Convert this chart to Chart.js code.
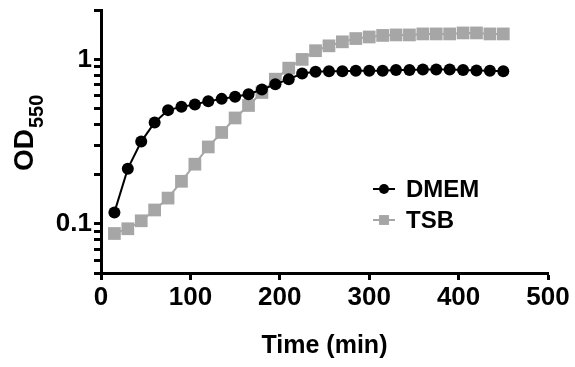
<!DOCTYPE html>
<html>
<head>
<meta charset="utf-8">
<script src="https://cdn.jsdelivr.net/npm/chart.js@4"></script>
<style>
  body { margin: 0; background: #fff; }
  #wrap { width: 575px; height: 367px; }
</style>
</head>
<body>
<div id="wrap"><canvas id="c" width="575" height="367"></canvas></div>
<script>
// sampling times (min)
var times = [15, 30, 45, 60, 75, 90, 105, 120, 135, 150, 165, 180, 195, 210, 225,
  240, 255, 270, 285, 300, 315, 330, 345, 360, 375, 390, 405, 420, 435, 450];
// OD550 readings
var dmem = [0.117, 0.216, 0.316, 0.413, 0.491, 0.514, 0.532, 0.557, 0.575, 0.592,
  0.614, 0.656, 0.705, 0.758, 0.821, 0.840, 0.848, 0.848, 0.852, 0.852,
  0.852, 0.861, 0.861, 0.869, 0.869, 0.869, 0.861, 0.857, 0.852, 0.848];
var tsb = [0.087, 0.093, 0.104, 0.121, 0.143, 0.181, 0.230, 0.293, 0.359, 0.440,
  0.524, 0.629, 0.758, 0.885, 1.00, 1.13, 1.21, 1.28, 1.34, 1.37,
  1.40, 1.41, 1.41, 1.43, 1.43, 1.43, 1.45, 1.45, 1.43, 1.43];
var seriesNames = ["DMEM", "TSB"];
var yTickValues = [0.05, 0.06, 0.07, 0.08, 0.09, 0.1, 0.2, 0.3, 0.4, 0.5, 0.6, 0.7, 0.8, 0.9, 1, 2];
var yTickLabels = { 0.1: "0.1", 1: "1" };

var FONT = "'Liberation Sans', Arial, Helvetica, sans-serif";

function pts(ys) {
  return ys.map(function (y, i) { return { x: times[i], y: y }; });
}

// y axis title with subscript
var yTitlePlugin = {
  id: "yTitle",
  afterDraw: function (chart) {
    var ctx = chart.ctx;
    ctx.save();
    ctx.translate(33, 171);
    ctx.rotate(-Math.PI / 2);
    ctx.fillStyle = "#000";
    ctx.textBaseline = "alphabetic";
    ctx.textAlign = "left";
    ctx.font = "bold 28px " + FONT;
    ctx.fillText("OD", 0, 0);
    var w = ctx.measureText("OD").width;
    ctx.font = "bold 20px " + FONT;
    ctx.fillText("550", w + 1, 10);
    ctx.restore();
  }
};

// legend with line + marker, placed inside plot
var legendPlugin = {
  id: "lineLegend",
  afterDraw: function (chart) {
    var ctx = chart.ctx;
    var rows = [189, 220];
    chart.data.datasets.forEach(function (ds, i) {
      var y = rows[i];
      ctx.save();
      ctx.strokeStyle = ds.borderColor;
      ctx.lineWidth = ds.borderWidth;
      ctx.beginPath();
      ctx.moveTo(373, y);
      ctx.lineTo(395, y);
      ctx.stroke();
      ctx.fillStyle = ds.pointBackgroundColor;
      ctx.strokeStyle = ds.pointBorderColor;
      ctx.lineWidth = 1;
      Chart.helpers.drawPoint(ctx, {
        pointStyle: ds.pointStyle,
        radius: ds.pointStyle === "rect" ? 7 : 5,
        rotation: 0,
        borderWidth: 0
      }, 384, y);
      ctx.fillStyle = "#000";
      ctx.font = "bold 24px " + FONT;
      ctx.textBaseline = "middle";
      ctx.textAlign = "left";
      ctx.fillText(ds.label, 406, y + 1);
      ctx.restore();
    });
  }
};

new Chart(document.getElementById("c"), {
  type: "line",
  data: {
    datasets: [
      {
        label: seriesNames[0],
        data: pts(dmem),
        borderColor: "#000",
        borderWidth: 2,
        pointStyle: "circle",
        pointRadius: 6,
        pointBackgroundColor: "#000",
        pointBorderColor: "#000",
        pointBorderWidth: 0,
        order: 1
      },
      {
        label: seriesNames[1],
        data: pts(tsb),
        borderColor: "#a6a6a6",
        borderWidth: 2,
        pointStyle: "rect",
        pointRadius: 9,
        pointBackgroundColor: "#a6a6a6",
        pointBorderColor: "#a6a6a6",
        pointBorderWidth: 0,
        order: 2
      }
    ]
  },
  options: {
    responsive: false,
    animation: false,
    events: [],
    layout: { padding: { left: 0, top: 10, right: 27, bottom: 0 } },
    plugins: { legend: { display: false }, tooltip: { enabled: false } },
    scales: {
      x: {
        type: "linear",
        min: 0,
        max: 500,
        ticks: {
          stepSize: 100,
          color: "#000",
          padding: 2,
          font: { family: FONT, size: 26, weight: "bold" }
        },
        grid: { drawOnChartArea: false, tickLength: 7, tickWidth: 3, tickColor: "#000" },
        border: { display: true, width: 3, color: "#000" },
        title: {
          display: true,
          text: "Time (min)",
          color: "#000",
          font: { family: FONT, size: 25, weight: "bold" },
          padding: { top: 0, bottom: 6 }
        },
        afterFit: function (s) { s.height = 94; }
      },
      y: {
        type: "logarithmic",
        min: 0.05,
        max: 2,
        afterBuildTicks: function (s) {
          s.ticks = yTickValues.map(function (v) { return { value: v }; });
        },
        ticks: {
          color: "#000",
          padding: 2,
          autoSkip: false,
          font: { family: FONT, size: 26, weight: "bold" },
          callback: function (v) { return yTickLabels[v] || ""; }
        },
        grid: { drawOnChartArea: false, tickLength: 7, tickWidth: 3, tickColor: "#000" },
        border: { display: true, width: 3, color: "#000" },
        afterFit: function (s) {
          s.width = 101;
          s.paddingTop = 0;
          s.paddingBottom = 0;
        }
      }
    }
  },
  plugins: [yTitlePlugin, legendPlugin]
});
</script>
</body>
</html>
